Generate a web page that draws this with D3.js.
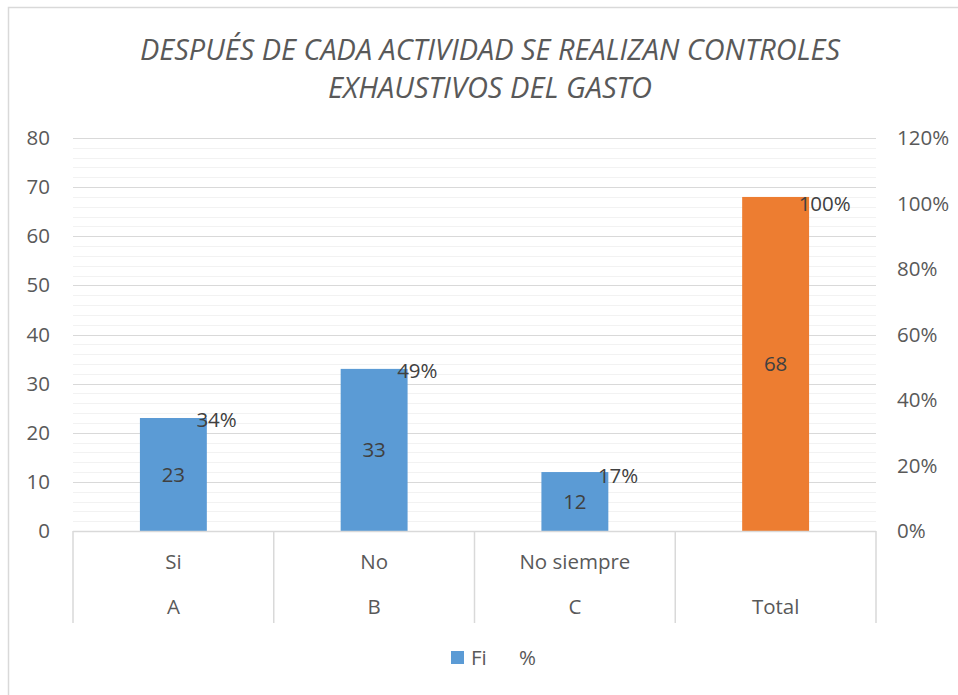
<!DOCTYPE html>
<html>
<head>
<meta charset="utf-8">
<script src="https://cdn.jsdelivr.net/npm/d3@7"></script>
<style>
  body { margin: 0; background: #fff; }
  text { font-family: "Open Sans", sans-serif; }
</style>
</head>
<body>
<script>
'use strict'
// chart data
const outerCats = ["A", "B", "C", "Total"];
const innerCats = ["Si", "No", "No siempre", ""];
const fiValues = [23, 33, 12, 68];
const pctValues = [0.34, 0.49, 0.17, 1.00];
const leftTicks = [0, 10, 20, 30, 40, 50, 60, 70, 80];
const rightTicks = [0, 0.2, 0.4, 0.6, 0.8, 1.0, 1.2];
const titleLines = ["DESPUÉS DE CADA ACTIVIDAD SE REALIZAN CONTROLES", "EXHAUSTIVOS DEL GASTO"];

const w = 958, h = 695;
const plotLeft = 73, plotRight = 876, plotTop = 138, plotBottom = 531;
const blue = "#5b9bd5", orange = "#ed7d31";
const fs = 20.5;

const svg = d3.select("body").append("svg")
	.attr("width", w)
	.attr("height", h);

// outer frame
svg.append("rect")
	.attr("x", 8.5).attr("y", 7.5)
	.attr("width", 1000).attr("height", 720)
	.attr("fill", "none")
	.attr("stroke", "#d9d9d9")
	.attr("stroke-width", 1.5);

const xScale = d3.scaleBand()
	.domain(outerCats)
	.range([plotLeft, plotRight])
	.padding(0);

const yScale = d3.scaleLinear().domain([0, 80]).range([plotBottom, plotTop]);
const yPct = d3.scaleLinear().domain([0, 1.2]).range([plotBottom, plotTop]);

// minor gridlines
svg.append("g")
	.selectAll("line")
	.data(d3.range(0, 81, 2).filter(v => v % 10 !== 0))
	.enter().append("line")
	.attr("x1", plotLeft).attr("x2", plotRight)
	.attr("y1", d => Math.round(yScale(d)) + 0.5)
	.attr("y2", d => Math.round(yScale(d)) + 0.5)
	.attr("stroke", "#f2f2f2");

// major gridlines
svg.append("g")
	.selectAll("line")
	.data(leftTicks.filter(v => v > 0))
	.enter().append("line")
	.attr("x1", plotLeft).attr("x2", plotRight)
	.attr("y1", d => Math.round(yScale(d)) + 0.5)
	.attr("y2", d => Math.round(yScale(d)) + 0.5)
	.attr("stroke", "#d9d9d9");

// left axis
const yAxis = d3.axisLeft(yScale).tickValues(leftTicks).tickSize(0).tickPadding(0);
const gy = svg.append("g")
	.attr("transform", "translate(50,0)")
	.call(yAxis);
gy.select(".domain").remove();
gy.selectAll("text")
	.attr("font-size", fs)
	.attr("fill", "#595959")
	.attr("font-family", "Open Sans");

// right axis
const yAxisR = d3.axisRight(yPct).tickValues(rightTicks).tickFormat(d3.format(".0%")).tickSize(0).tickPadding(0);
const gr = svg.append("g")
	.attr("transform", "translate(897,0)")
	.call(yAxisR);
gr.select(".domain").remove();
gr.selectAll("text")
	.attr("font-size", fs)
	.attr("fill", "#595959")
	.attr("font-family", "Open Sans");

// bars
const barW = xScale.bandwidth() / 3;
svg.selectAll("rect.bar")
	.data(fiValues)
	.enter().append("rect")
	.attr("class", "bar")
	.attr("x", (d, i) => xScale(outerCats[i]) + xScale.bandwidth() / 2 - barW / 2)
	.attr("y", d => yScale(d))
	.attr("width", barW)
	.attr("height", d => plotBottom - yScale(d))
	.attr("fill", (d, i) => outerCats[i] === "Total" ? orange : blue);

// value labels in bars
svg.selectAll("text.val")
	.data(fiValues)
	.enter().append("text")
	.attr("class", "val")
	.attr("x", (d, i) => xScale(outerCats[i]) + xScale.bandwidth() / 2)
	.attr("y", d => (yScale(d) + plotBottom) / 2)
	.attr("dy", "0.35em")
	.attr("text-anchor", "middle")
	.attr("font-size", fs)
	.attr("fill", "#404040")
	.text(d => d);

// percent labels (line series drawn without stroke)
svg.selectAll("text.pct")
	.data(pctValues)
	.enter().append("text")
	.attr("class", "pct")
	.attr("x", (d, i) => xScale(outerCats[i]) + xScale.bandwidth() / 2 + 23)
	.attr("y", d => yPct(d))
	.attr("dy", "0.35em")
	.attr("font-size", fs)
	.attr("fill", "#404040")
	.text(d => d3.format(".0%")(d));

// category axis line and separators
svg.append("line")
	.attr("x1", plotLeft).attr("x2", plotRight)
	.attr("y1", plotBottom + 0.5).attr("y2", plotBottom + 0.5)
	.attr("stroke", "#d9d9d9").attr("stroke-width", 1.5);

svg.append("g")
	.selectAll("line")
	.data(outerCats.map(c => xScale(c)).concat([plotRight]))
	.enter().append("line")
	.attr("x1", d => d).attr("x2", d => d)
	.attr("y1", plotBottom).attr("y2", 623)
	.attr("stroke", "#d9d9d9").attr("stroke-width", 1.5);

svg.append("g")
	.selectAll("text")
	.data(innerCats)
	.enter().append("text")
	.attr("x", (d, i) => xScale(outerCats[i]) + xScale.bandwidth() / 2)
	.attr("y", 562)
	.attr("dy", "0.35em")
	.attr("text-anchor", "middle")
	.attr("font-size", fs)
	.attr("fill", "#595959")
	.text(d => d);

svg.append("g")
	.selectAll("text")
	.data(outerCats)
	.enter().append("text")
	.attr("x", d => xScale(d) + xScale.bandwidth() / 2)
	.attr("y", 607)
	.attr("dy", "0.35em")
	.attr("text-anchor", "middle")
	.attr("font-size", fs)
	.attr("fill", "#595959")
	.text(d => d);

// title
svg.append("text")
	.attr("x", 490).attr("y", 60)
	.attr("text-anchor", "middle")
	.attr("font-size", 29)
	.attr("font-style", "italic")
	.attr("fill", "#595959")
	.attr("textLength", 700)
	.attr("lengthAdjust", "spacingAndGlyphs")
	.text(titleLines[0]);

svg.append("text")
	.attr("x", 490).attr("y", 98)
	.attr("text-anchor", "middle")
	.attr("font-size", 29)
	.attr("font-style", "italic")
	.attr("fill", "#595959")
	.attr("textLength", 324)
	.attr("lengthAdjust", "spacingAndGlyphs")
	.text(titleLines[1]);

// legend
svg.append("rect")
	.attr("x", 451).attr("y", 651)
	.attr("width", 13).attr("height", 13)
	.attr("fill", blue);
svg.append("text")
	.attr("x", 471).attr("y", 658)
	.attr("dy", "0.35em")
	.attr("font-size", fs)
	.attr("fill", "#595959")
	.text("Fi");
svg.append("text")
	.attr("x", 519).attr("y", 658)
	.attr("dy", "0.35em")
	.attr("font-size", fs)
	.attr("fill", "#595959")
	.text("%");
</script>
</body>
</html>
